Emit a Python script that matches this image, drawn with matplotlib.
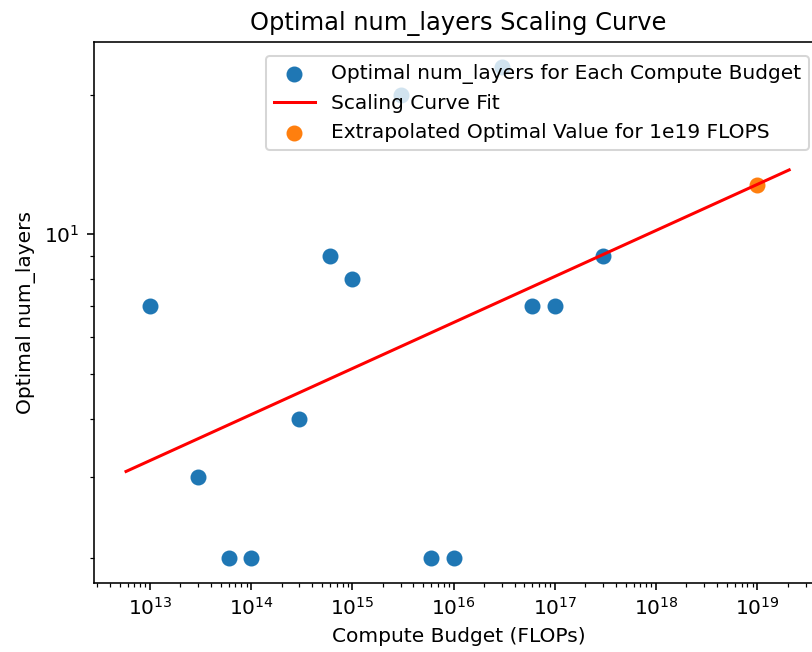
"""Optimal num_layers scaling curve: per-budget optima, log-log fit, 1e19 extrapolation."""

import matplotlib

matplotlib.use("Agg")
import matplotlib.pyplot as plt

DPI = 145

# optimal num_layers found at each compute budget
budgets = [1e13, 3e13, 6e13, 1e14, 3e14, 6e14, 1e15, 3e15, 6e15, 1e16, 3e16, 6e16, 1e17, 3e17]
num_layers = [7, 3, 2, 2, 4, 9, 8, 20, 2, 2, 23, 7, 7, 9]

# scaling curve fit (endpoints)
fit_budgets = [5.8e12, 2.07e19]
fit_layers = [3.08, 13.77]

# extrapolated optimum
target_budget = [1e19]
target_layers = [12.8]

# the source image is cropped just inside the right spine
X_LIMITS = (10 ** 12.447, 10 ** 19.65)

fig = plt.figure(figsize=(812 / DPI, 652 / DPI), dpi=DPI)
ax = fig.add_axes([94 / 812, 1 - 583 / 652, (823 - 94) / 812, (583 - 42) / 652])

ax.scatter(budgets, num_layers, s=48, color="tab:blue",
           label="Optimal num_layers for Each Compute Budget")
ax.plot(fit_budgets, fit_layers, color="red", label="Scaling Curve Fit")
ax.scatter(target_budget, target_layers, s=48, color="tab:orange",
           label="Extrapolated Optimal Value for 1e19 FLOPS")

ax.set_xscale("log")
ax.set_yscale("log")
ax.set_xlim(*X_LIMITS)
ax.set_xlabel("Compute Budget (FLOPs)")
ax.set_ylabel("Optimal num_layers")
ax.set_title("Optimal num_layers Scaling Curve")
ax.legend(loc="upper right", borderaxespad=0.7)

fig.savefig("out.png", dpi=DPI)
